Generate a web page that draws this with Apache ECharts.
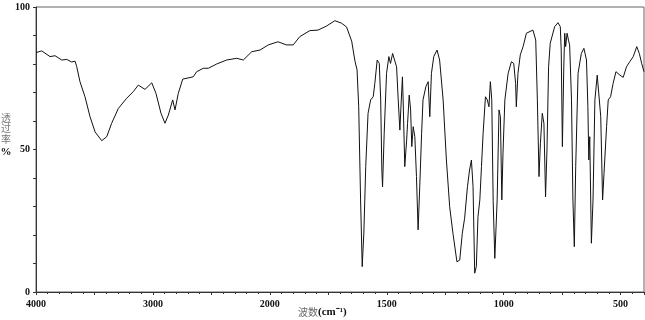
<!DOCTYPE html>
<html>
<head>
<meta charset="utf-8">
<script src="https://cdn.jsdelivr.net/npm/echarts@6/dist/echarts.min.js"></script>
<style>
html,body{margin:0;padding:0;background:#fff;}
#ir{width:645px;height:320px;}
</style>
</head>
<body>
<div id="ir"></div>
<script>
let box = echarts.init(document.getElementById('ir'));

/*波数 cm-1*/
let wn = [4000,3951,3880,3837,3780,3737,3695,3666,3652,3624,3581,3538,3495,3438,3395,3353,3296,3224,3168,3125,
  3068,3010,2974,2931,2897,2868,2854,2831,2811,2783,2745,2655,2626,2569,2526,2455,2369,2283,2227,2155,
  2084,2013,1965,1929,1900,1872,1829,1794,1758,1722,1693,1672,1650,1636,1627,1620,1612,1605,1598,1590,
  1580,1569,1558,1551,1541,1532,1526,1521,1518,1511,1501,1491,1484,1475,1468,1458,1451,1444,1440,1433,
  1430,1423,1415,1411,1404,1398,1393,1387,1380,1373,1366,1359,1351,1345,1333,1323,1316,1309,1299,1285,
  1274,1259,1245,1231,1217,1200,1188,1177,1167,1155,1146,1138,1131,1124,1117,1110,1102,1095,1088,1078,
  1070,1063,1057,1051,1045,1038,1028,1020,1014,1008,1003,995,981,967,957,949,946,939,929,917,
  903,875,863,856,849,843,835,828,821,815,808,801,782,768,758,754,749,743,739,735,
  729,723,718,710,704,698,692,682,668,657,646,640,636,632,625,618,610,600,592,585,
  577,571,560,553,543,532,520,503,489,475,461,446,431,420,410,400];
/*透过率 %*/
let tr = [84.0,84.6,82.6,82.9,81.4,81.6,80.7,81.0,79.1,73.8,68.5,61.5,56.2,53.1,54.5,59.2,64.4,68.0,70.3,72.6,
  71.1,73.4,69.7,62.7,59.2,62.1,61.5,67.4,63.9,69.7,74.7,75.5,77.3,78.5,78.5,80.0,81.4,82.0,81.4,84.3,
  84.9,86.7,87.8,86.7,86.7,89.6,91.7,91.9,93.3,95.2,94.3,93.0,88.0,81.0,77.9,65.0,32.3,8.9,20.7,44.0,
  62.7,67.4,68.5,73.2,81.4,80.2,67.4,42.8,36.9,55.7,76.7,82.6,80.2,83.7,84.3,79.0,67.4,56.8,63.9,75.5,
  67.4,44.0,53.3,59.2,69.1,63.9,51.0,58.0,54.5,40.5,21.8,36.9,55.7,67.4,72.0,73.8,61.5,76.7,82.6,84.9,
  81.4,67.4,46.3,29.9,20.6,10.6,11.2,20.6,25.9,36.9,42.8,46.3,36.9,6.6,8.9,26.4,32.3,44.0,55.7,68.5,
  67.4,65.0,73.8,67.4,32.0,11.8,32.3,63.9,61.5,32.3,48.7,67.4,76.7,80.8,80.2,73.2,65.0,76.7,83.2,86.1,
  90.8,91.9,88.4,67.4,40.5,52.2,62.7,59.2,33.4,49.8,79.0,87.3,93.1,94.5,93.1,84.9,51.0,79.0,90.8,86.1,
  90.8,88.4,86.7,67.4,32.3,15.9,44.0,76.7,83.7,85.5,81.4,65.0,46.3,54.5,17.1,32.3,67.4,76.1,75.5,61.5,
  32.3,41.6,58.0,67.4,68.5,73.2,77.3,76.1,75.3,79.0,80.8,82.6,86.1,83.7,80.2,77.3];

/*刻度标签*/
let xLabels = [4000,3000,2000,1500,1000,500];
let yLabels = [0,50,100];

/*2000以下刻度加倍*/
function toU(w){ return w >= 2000 ? 4000 - w : 2000 + (2000 - w) * 2; }
function toW(u){ return u <= 2000 ? 4000 - u : 2000 - (u - 2000) / 2; }

let pts = wn.map(function(w,i){ return [toU(w), tr[i]]; });

let lab = {color:'#111', fontFamily:'Liberation Serif', fontWeight:'bold', fontSize:10};

let _box = {
  animation:false,
  grid:{left:36, right:1, top:7, bottom:28, show:true, borderColor:'#666', borderWidth:1},
  xAxis:{
    type:'value', min:0, max:toU(400), interval:500,
    axisLine:{show:true, onZero:false, lineStyle:{color:'#333', width:1}},
    axisTick:{show:true, length:3, lineStyle:{color:'#333'}},
    minorTick:{show:true, splitNumber:5, length:2, lineStyle:{color:'#333'}},
    splitLine:{show:false},
    axisLabel:Object.assign({margin:7, showMaxLabel:false, formatter:function(v){
      let w = toW(v);
      return xLabels.indexOf(w) > -1 ? String(w) : '';
    }}, lab)
  },
  yAxis:{
    type:'value', min:0, max:100, interval:10,
    axisLine:{show:true, lineStyle:{color:'#333', width:1}},
    axisTick:{show:true, length:3, lineStyle:{color:'#333'}},
    splitLine:{show:false},
    axisLabel:Object.assign({margin:6, formatter:function(v){
      return yLabels.indexOf(v) > -1 ? String(v) : '';
    }}, lab)
  },
  graphic:[
    {type:'text', left:298, top:307, style:{
      text:'{a|波数}{b|(cm⁻¹)}',
      rich:{a:{fontFamily:'Noto Sans CJK SC', fontSize:10, fill:'#666'},
            b:{fontFamily:'Liberation Serif', fontWeight:'bold', fontSize:11, fill:'#111'}}
    }},
    {type:'text', left:0, top:113, style:{
      text:'{a|透}\n{a|过}\n{a|率}\n{b|%}', align:'center',
      rich:{a:{fontFamily:'Noto Sans CJK SC', fontSize:10, fill:'#777', lineHeight:10.5, width:12, align:'center'},
            b:{fontFamily:'Liberation Serif', fontWeight:'bold', fontSize:11, fill:'#111', lineHeight:15, width:12, align:'center'}}
    }}
  ],
  series:[{
    type:'line', data:pts, showSymbol:false, smooth:false,
    lineStyle:{color:'#111', width:1}
  }]
};

box.setOption(_box);
</script>
</body>
</html>
